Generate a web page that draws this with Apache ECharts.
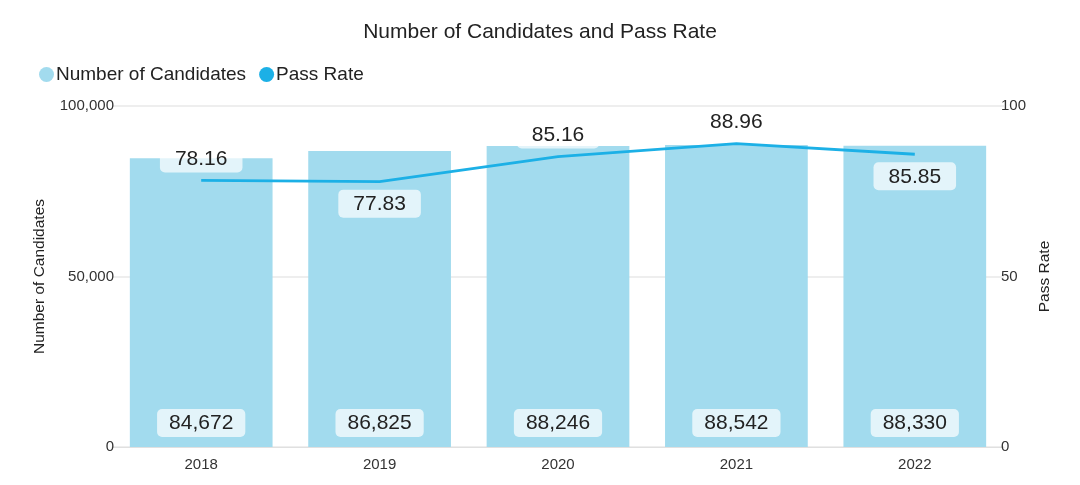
<!DOCTYPE html>
<html><head><meta charset="utf-8">
<script src="https://cdn.jsdelivr.net/npm/echarts@6/dist/echarts.min.js"></script>
<style>html,body{margin:0;padding:0;background:#fff}#c{width:1080px;height:485px}</style>
</head><body><div id="c"></div>
<script>
const years = ['2018','2019','2020','2021','2022'];
const candidates = [84672, 86825, 88246, 88542, 88330];
const passRate = [78.16, 77.83, 85.16, 88.96, 85.85];
const leftTicks = [0, 50000, 100000];
const rightTicks = [0, 50, 100];
const passLabelPos = ['top','bottom','top','top','bottom'];

const font = '"Liberation Sans", Arial, sans-serif';
const chart = echarts.init(document.getElementById('c'));
chart.setOption({
  textStyle: {fontFamily: font},
  animation: false,
  title: {text: 'Number of Candidates and Pass Rate', left: 'center', top: 17,
    textStyle: {fontFamily: font, fontSize: 21, fontWeight: 'normal', color: '#222'}},
  legend: {left: 34, top: 60, itemWidth: 15, itemHeight: 15, itemGap: 13, icon: 'circle',
    textStyle: {fontFamily: font, fontSize: 19, color: '#222', padding: [0,0,0,-3]},
    data: ['Number of Candidates', 'Pass Rate']},
  grid: {left: 112, right: 76, top: 106, bottom: 38},
  xAxis: {type: 'category', data: years,
    axisLine: {lineStyle: {color: '#e0e0e0'}}, axisTick: {show: false},
    axisLabel: {color: '#333', fontSize: 15, margin: 10, fontFamily: font}},
  yAxis: [
    {type: 'value', min: leftTicks[0], max: leftTicks[2], interval: 50000,
     name: 'Number of Candidates', nameLocation: 'middle', nameGap: 64, nameRotate: 90,
     nameTextStyle: {fontSize: 15.5, color: '#222', fontFamily: font},
     axisLabel: {color: '#333', fontSize: 15, margin: -2, fontFamily: font,
       formatter: v => v.toLocaleString('en-US')},
     splitLine: {lineStyle: {color: '#e8e8e8', width: 1.5}}},
    {type: 'value', min: rightTicks[0], max: rightTicks[2], interval: 50,
     name: 'Pass Rate', nameLocation: 'middle', nameGap: 31, nameRotate: 90,
     nameTextStyle: {fontSize: 15.5, color: '#222', fontFamily: font},
     axisLabel: {color: '#333', fontSize: 15, margin: -3, fontFamily: font},
     splitLine: {show: false}}
  ],
  series: [
    {name: 'Number of Candidates', type: 'bar', data: candidates, barCategoryGap: '20%',
     itemStyle: {color: '#a2dbee'},
     label: {show: true, position: 'insideBottom', distance: 10, fontSize: 21, color: '#222',
       fontFamily: font, backgroundColor: 'rgba(255,255,255,0.7)', borderRadius: 5,
       padding: [4, 12, 3, 12], formatter: p => p.value.toLocaleString('en-US')}},
    {name: 'Pass Rate', type: 'line', yAxisIndex: 1, showSymbol: true, symbol: 'circle',
     symbolSize: 0.1, itemStyle: {color: '#1cb0e6'}, lineStyle: {width: 2.8, color: '#1cb0e6'},
     data: passRate.map((v, i) => ({value: v,
       label: {position: passLabelPos[i]}})),
     label: {show: true, distance: 8, fontSize: 21, color: '#222', fontFamily: font,
       backgroundColor: 'rgba(255,255,255,0.7)', borderRadius: 5, padding: [4, 15, 3, 15],
       formatter: p => p.value.toFixed(2)}}
  ]
});
</script></body></html>
